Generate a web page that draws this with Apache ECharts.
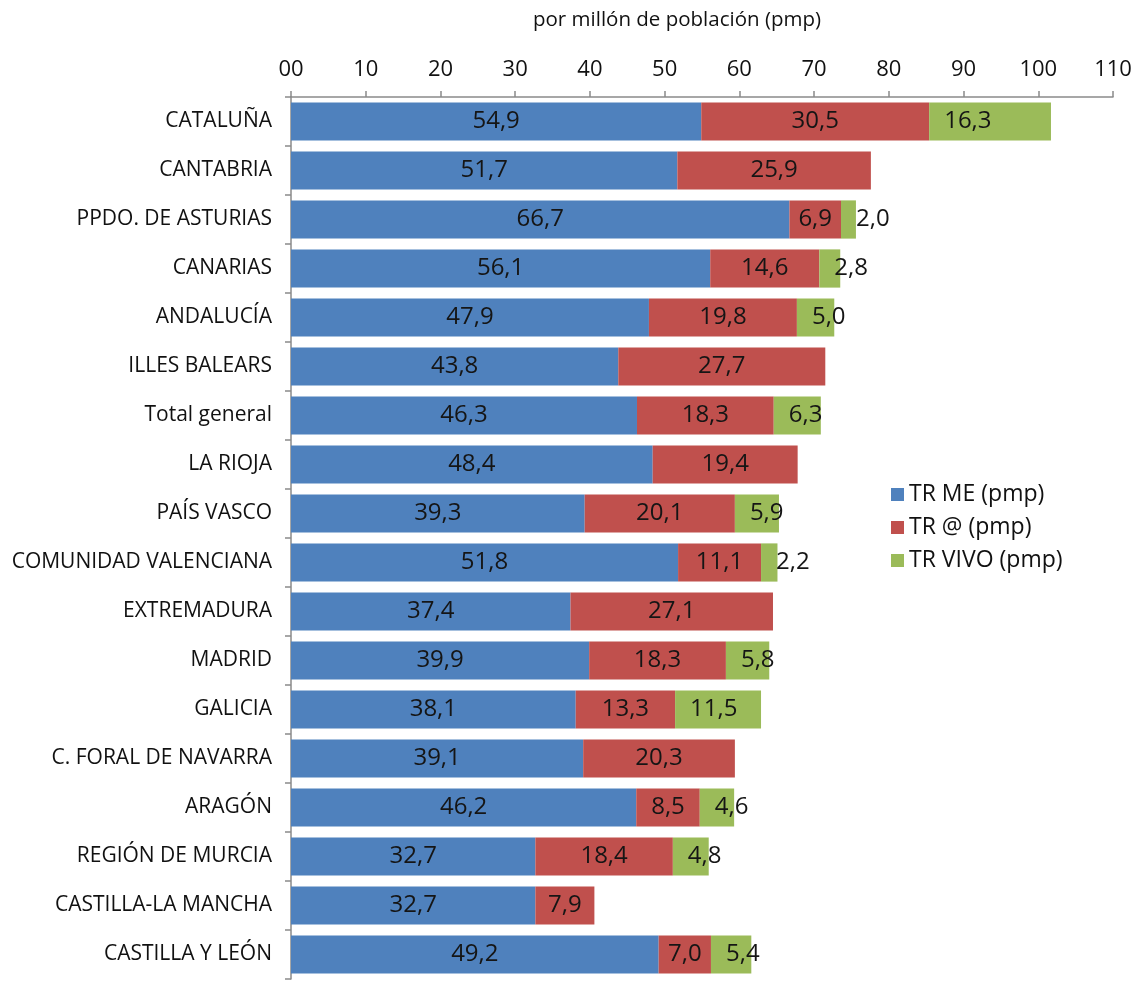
<!DOCTYPE html>
<html>
<head>
<meta charset="utf-8">
<script src="https://cdn.jsdelivr.net/npm/echarts@6/dist/echarts.min.js"></script>
<style>
  html, body { margin: 0; padding: 0; background: #fff; }
  #chart { width: 1137px; height: 986px; }
</style>
</head>
<body>
<div id="chart"></div>
<script>
const categories = [
  'CATALUÑA', 'CANTABRIA', 'PPDO. DE ASTURIAS', 'CANARIAS', 'ANDALUCÍA',
  'ILLES BALEARS', 'Total general', 'LA RIOJA', 'PAÍS VASCO',
  'COMUNIDAD VALENCIANA', 'EXTREMADURA', 'MADRID', 'GALICIA',
  'C. FORAL DE NAVARRA', 'ARAGÓN', 'REGIÓN DE MURCIA', 'CASTILLA-LA MANCHA',
  'CASTILLA Y LEÓN'
]
const trMe = [54.9, 51.7, 66.7, 56.1, 47.9, 43.8, 46.3, 48.4, 39.3, 51.8, 37.4, 39.9, 38.1, 39.1, 46.2, 32.7, 32.7, 49.2]
const trArroba = [30.5, 25.9, 6.9, 14.6, 19.8, 27.7, 18.3, 19.4, 20.1, 11.1, 27.1, 18.3, 13.3, 20.3, 8.5, 18.4, 7.9, 7.0]
const trVivo = [16.3, null, 2.0, 2.8, 5.0, null, 6.3, null, 5.9, 2.2, null, 5.8, 11.5, null, 4.6, 4.8, null, 5.4]
const xTicks = [0, 10, 20, 30, 40, 50, 60, 70, 80, 90, 100, 110]

const FONT = 'Open Sans'
const fmt = (p) => p.value == null ? '' : p.value.toFixed(1).replace('.', ',')

const chart = echarts.init(document.getElementById('chart'))
const option = {
  animation: false,
  textStyle: { fontFamily: FONT },
  title: {
    text: 'por millón de población (pmp)',
    left: 528,
    top: 5,
    textStyle: { fontFamily: FONT, fontSize: 20.5, fontWeight: 'normal', color: '#111' }
  },
  legend: {
    orient: 'vertical',
    left: 886,
    top: 478,
    itemWidth: 13,
    itemHeight: 13,
    itemGap: 10,
    icon: 'rect',
    textStyle: { fontFamily: FONT, fontSize: 23, color: '#111' },
    data: ['TR ME (pmp)', 'TR @ (pmp)', 'TR VIVO (pmp)']
  },
  grid: { left: 291, top: 97, right: 24, bottom: 7 },
  xAxis: {
    type: 'value',
    position: 'top',
    min: 0,
    max: 110,
    interval: 10,
    axisLine: { show: true, lineStyle: { color: '#8a8a8a', width: 1.5 } },
    axisTick: { show: true, length: 6, lineStyle: { color: '#8a8a8a', width: 1.5 } },
    splitLine: { show: false },
    axisLabel: {
      margin: 16,
      fontSize: 22,
      color: '#111',
      fontFamily: FONT,
      formatter: (v) => v === xTicks[0] ? '00' : String(v)
    }
  },
  yAxis: {
    type: 'category',
    inverse: true,
    data: categories,
    axisLine: { show: true, lineStyle: { color: '#8a8a8a', width: 1.5 } },
    axisTick: { show: true, length: 6, lineStyle: { color: '#8a8a8a', width: 1.5 } },
    axisLabel: { margin: 19, fontSize: 21, color: '#111', fontFamily: FONT }
  },
  series: [
    {
      name: 'TR ME (pmp)',
      type: 'bar',
      stack: 'total',
      barCategoryGap: '22%',
      data: trMe,
      itemStyle: { color: '#4F81BD' },
      label: { show: true, position: 'inside', formatter: fmt, fontSize: 24, color: '#151515', fontFamily: FONT }
    },
    {
      name: 'TR @ (pmp)',
      type: 'bar',
      stack: 'total',
      data: trArroba,
      itemStyle: { color: '#C0504D' },
      label: { show: true, position: 'inside', formatter: fmt, fontSize: 24, color: '#151515', fontFamily: FONT }
    },
    {
      name: 'TR VIVO (pmp)',
      type: 'bar',
      stack: 'total',
      data: trVivo,
      itemStyle: { color: '#9BBB59' },
      label: { show: true, position: 'insideLeft', distance: 15, formatter: fmt, fontSize: 24, color: '#151515', fontFamily: FONT }
    }
  ]
}
option && chart.setOption(option)
</script>
</body>
</html>
